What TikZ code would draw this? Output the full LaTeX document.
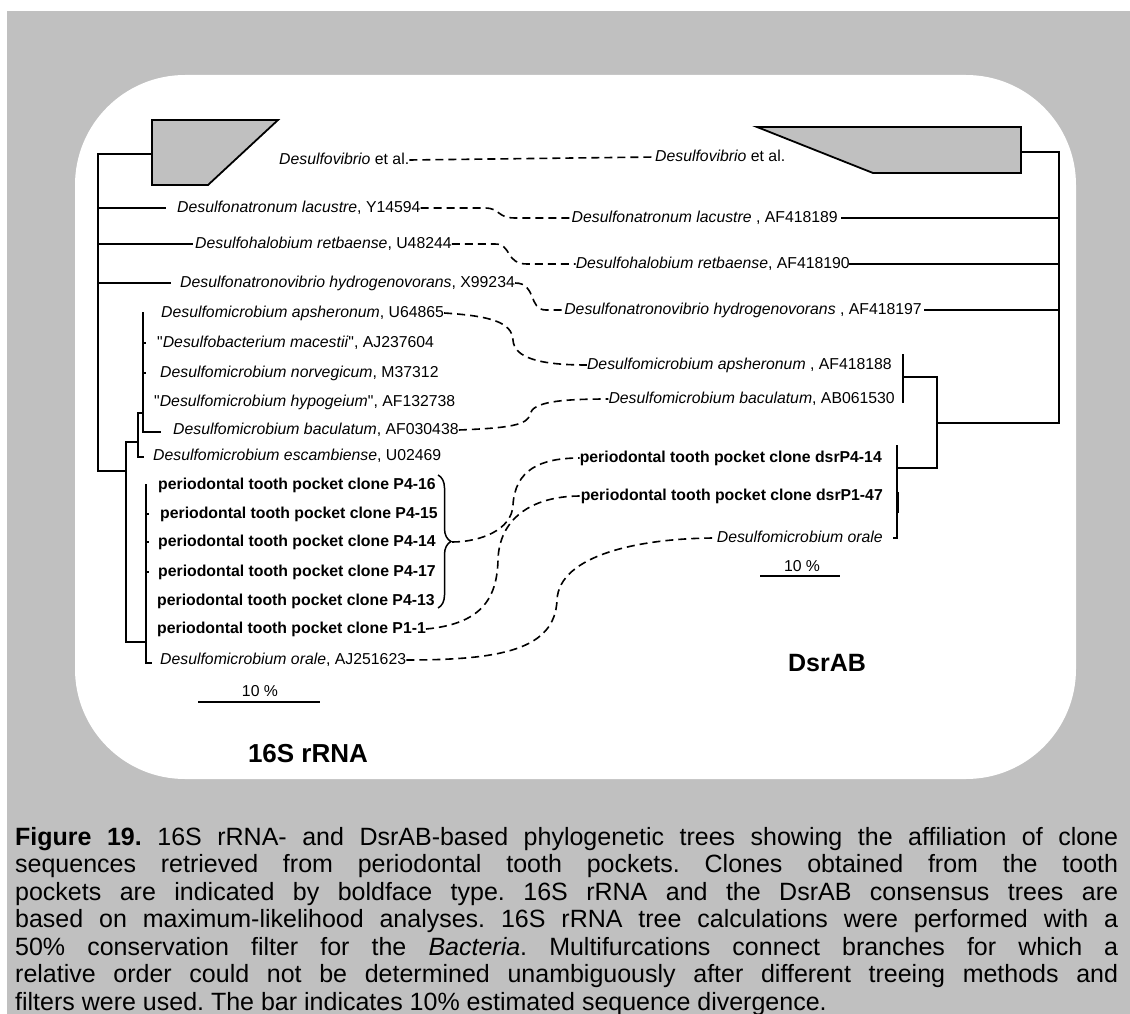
\documentclass[tikz,border=0pt]{standalone}
\usepackage{fontspec}
\setmainfont{Liberation Sans}
\usetikzlibrary{calc,decorations.pathreplacing}
\definecolor{panelgray}{HTML}{C0C0C0}
\newcommand\lblfont{\fontsize{15.8}{18}\selectfont}
\newcommand\capfont{\fontsize{25}{27.5}\selectfont}
\newcommand\clone[1]{\textbf{periodontal tooth pocket clone #1}}
\begin{document}
\frenchspacing
\begin{tikzpicture}[x=1pt,y=-1pt,
  lbl/.style={inner sep=0pt,text height=12pt,text depth=3pt,font=\lblfont},
  tree/.style={line width=1.8pt,line cap=rect},
  link/.style={line width=1.6pt,dash pattern=on 8pt off 5pt},
  clade/.style={draw,line width=1.8pt,fill=panelgray,line join=miter}]
\useasboundingbox (0,0) rectangle (1130,1014);
% backdrop
\fill[panelgray] (7,11) rectangle (1130,1014);
\fill[white,rounded corners=110pt] (75,75) rectangle (1076,779);

% ---------------- 16S rRNA tree ----------------
\draw[clade] (152,120) -- (278,120) -- (208,185) -- (152,185) -- cycle;
\node[lbl,anchor=west] (l0) at (279,160) {\textit{Desulfovibrio} et al.};
\node[lbl,anchor=west] (l1) at (177,208) {\textit{Desulfonatronum lacustre}, Y14594};
\node[lbl,anchor=west] (l2) at (195,244) {\textit{Desulfohalobium retbaense}, U48244};
\node[lbl,anchor=west] (l3) at (180,283) {\textit{Desulfonatronovibrio hydrogenovorans}, X99234};
\node[lbl,anchor=west] (l4) at (161,313) {\textit{Desulfomicrobium apsheronum}, U64865};
\node[lbl,anchor=west] (l5) at (157,343) {\textquotedbl\textit{Desulfobacterium macestii}\textquotedbl, AJ237604};
\node[lbl,anchor=west] (l6) at (160,373) {\textit{Desulfomicrobium norvegicum}, M37312};
\node[lbl,anchor=west] (l7) at (154,402) {\textquotedbl\textit{Desulfomicrobium hypogeium}\textquotedbl, AF132738};
\node[lbl,anchor=west] (l8) at (173,430) {\textit{Desulfomicrobium baculatum}, AF030438};
\node[lbl,anchor=west] (l9) at (153,456) {\textit{Desulfomicrobium escambiense}, U02469};
\node[lbl,anchor=west] (c1) at (158,485) {\clone{P4-16}};
\node[lbl,anchor=west] (c2) at (160,514) {\clone{P4-15}};
\node[lbl,anchor=west] (c3) at (158,542) {\clone{P4-14}};
\node[lbl,anchor=west] (c4) at (158,572) {\clone{P4-17}};
\node[lbl,anchor=west] (c5) at (157,601) {\clone{P4-13}};
\node[lbl,anchor=west] (c6) at (157,629) {\clone{P1-1}};
\node[lbl,anchor=west] (l10) at (160,660) {\textit{Desulfomicrobium orale}, AJ251623};

% branches
\draw[tree] (152,154) -| (98,471) -- (126,471);
\draw[tree] (98,208) -- (165,208);
\draw[tree] (98,244) -- (192,244);
\draw[tree] (98,283) -- (170,283);
\draw[tree] (146,642) -| (126,442) -- (138,442);
\draw[tree] (143,457) -| (138,413) -- (143,413);
\draw[tree] (143,313) -- (143,432) -- (160,432);
\draw[tree] (143,343) -- (145,343);
\draw[tree] (143,373) -- (145,373);
\draw[tree] (146,485) -- (146,663) -- (151,663);
\draw[tree] (146,514) -- (148,514);
\draw[tree] (146,542) -- (148,542);
\draw[tree] (146,572) -- (148,572);
% clone group brace
\draw[line width=1.5pt,decorate,decoration={brace,amplitude=13pt}] (438,475) -- (438,608);
\coordinate (brtip) at (452,542);

% scale bar
\node[lbl,anchor=center] (s1) at (260,692) {10 \%};
\draw[tree,line cap=butt] (198,702) -- (320,702);
\node[font=\fontsize{26}{30}\selectfont\bfseries,inner sep=0pt] (t1) at (308,754) {16S rRNA};

% ---------------- DsrAB tree ----------------
\draw[clade] (757,127) -- (1021,127) -- (1021,173) -- (873,173) -- cycle;
\node[lbl,anchor=west] (r0) at (655,157) {\textit{Desulfovibrio} et al.};
\node[lbl,anchor=east] (r1) at (838,218) {\textit{Desulfonatronum lacustre} , AF418189};
\node[lbl,anchor=east] (r2) at (850,264) {\textit{Desulfohalobium retbaense}, AF418190};
\node[lbl,anchor=east] (r3) at (922,310) {\textit{Desulfonatronovibrio hydrogenovorans} , AF418197};
\node[lbl,anchor=east] (r4) at (892,365) {\textit{Desulfomicrobium apsheronum} , AF418188};
\node[lbl,anchor=east] (r5) at (895,399) {\textit{Desulfomicrobium baculatum}, AB061530};
\node[lbl,anchor=east] (r6) at (882,458) {\textbf{periodontal tooth pocket clone dsrP4-14}};
\node[lbl,anchor=east] (r7) at (883,496) {\textbf{periodontal tooth pocket clone dsrP1-47}};
\node[lbl,anchor=east] (r8) at (883,538) {\textit{Desulfomicrobium orale}};

\draw[tree] (1021,152) -| (1059,423) -- (937,423);
\draw[tree] ($(r1.east)+(4,0)$) -- (1059,218);
\draw[tree] (r2.east) -- (1059,264);
\draw[tree] ($(r3.east)+(3,0)$) -- (1059,310);
\draw[tree] (903,377) -| (937,468) -- (897,468);
\draw[tree] (937,377) -- (937,423);
\draw[tree] (903,355) -- (903,402);
\draw[tree] (897,446) -- (897,538) -- (894,538);
\draw[line width=3pt] (897,492) -- (897,513);

\node[lbl,anchor=center] (s2) at (802,567) {10 \%};
\draw[tree,line cap=butt] (760,576) -- (840,576);
\node[font=\fontsize{25}{30}\selectfont\bfseries,inner sep=0pt] (t2) at (827,663) {DsrAB};

% ---------------- links between the trees ----------------
\draw[link] (l0.east) -- (r0.west);
\draw[link] (l1.east) -- (485,208) .. controls (500,208) and (497,218) .. (515,218) -- (r1.west);
\draw[link] (l2.east) -- (495,244) .. controls (512,244) and (505,264) .. (527,264) -- (r2.west);
\draw[link] (l3.east) .. controls (537,283) and (528,310) .. (546,310) -- (r3.west);
\draw[link] (l4.east) .. controls (490,316) and (512,322) .. (513,340)
  .. controls (514,358) and (540,365) .. (r4.west);
\draw[link] (l8.east) .. controls (510,428) and (528,425) .. (530,414)
  .. controls (533,402) and (560,399) .. (r5.west);
\draw[link] (brtip) .. controls (480,542) and (512,530) .. (513,505)
  .. controls (515,470) and (540,458) .. (r6.west);
\draw[link] (c6.east) .. controls (480,624) and (497,600) .. (498,560)
  .. controls (499,520) and (530,496) .. (r7.west);
\draw[link] (l10.east) .. controls (500,660) and (555,650) .. (557,600)
  .. controls (559,555) and (640,538) .. (r8.west);

% ---------------- caption ----------------
\node[inner sep=0pt,anchor=base west] (cap) at (15,845) {\parbox[t]{1103pt}{\capfont
\textbf{Figure 19.} 16S rRNA- and DsrAB-based phylogenetic trees showing the affiliation of clone\linebreak
sequences retrieved from periodontal tooth pockets. Clones obtained from the tooth\linebreak
pockets are indicated by boldface type. 16S rRNA and the DsrAB consensus trees are\linebreak
based on maximum-likelihood analyses. 16S rRNA tree calculations were performed with a\linebreak
50\% conservation filter for the \textit{Bacteria}. Multifurcations connect branches for which a\linebreak
relative order could not be determined unambiguously after different treeing methods and\linebreak
filters were used. The bar indicates 10\% estimated sequence divergence.}};
\end{tikzpicture}
\end{document}
